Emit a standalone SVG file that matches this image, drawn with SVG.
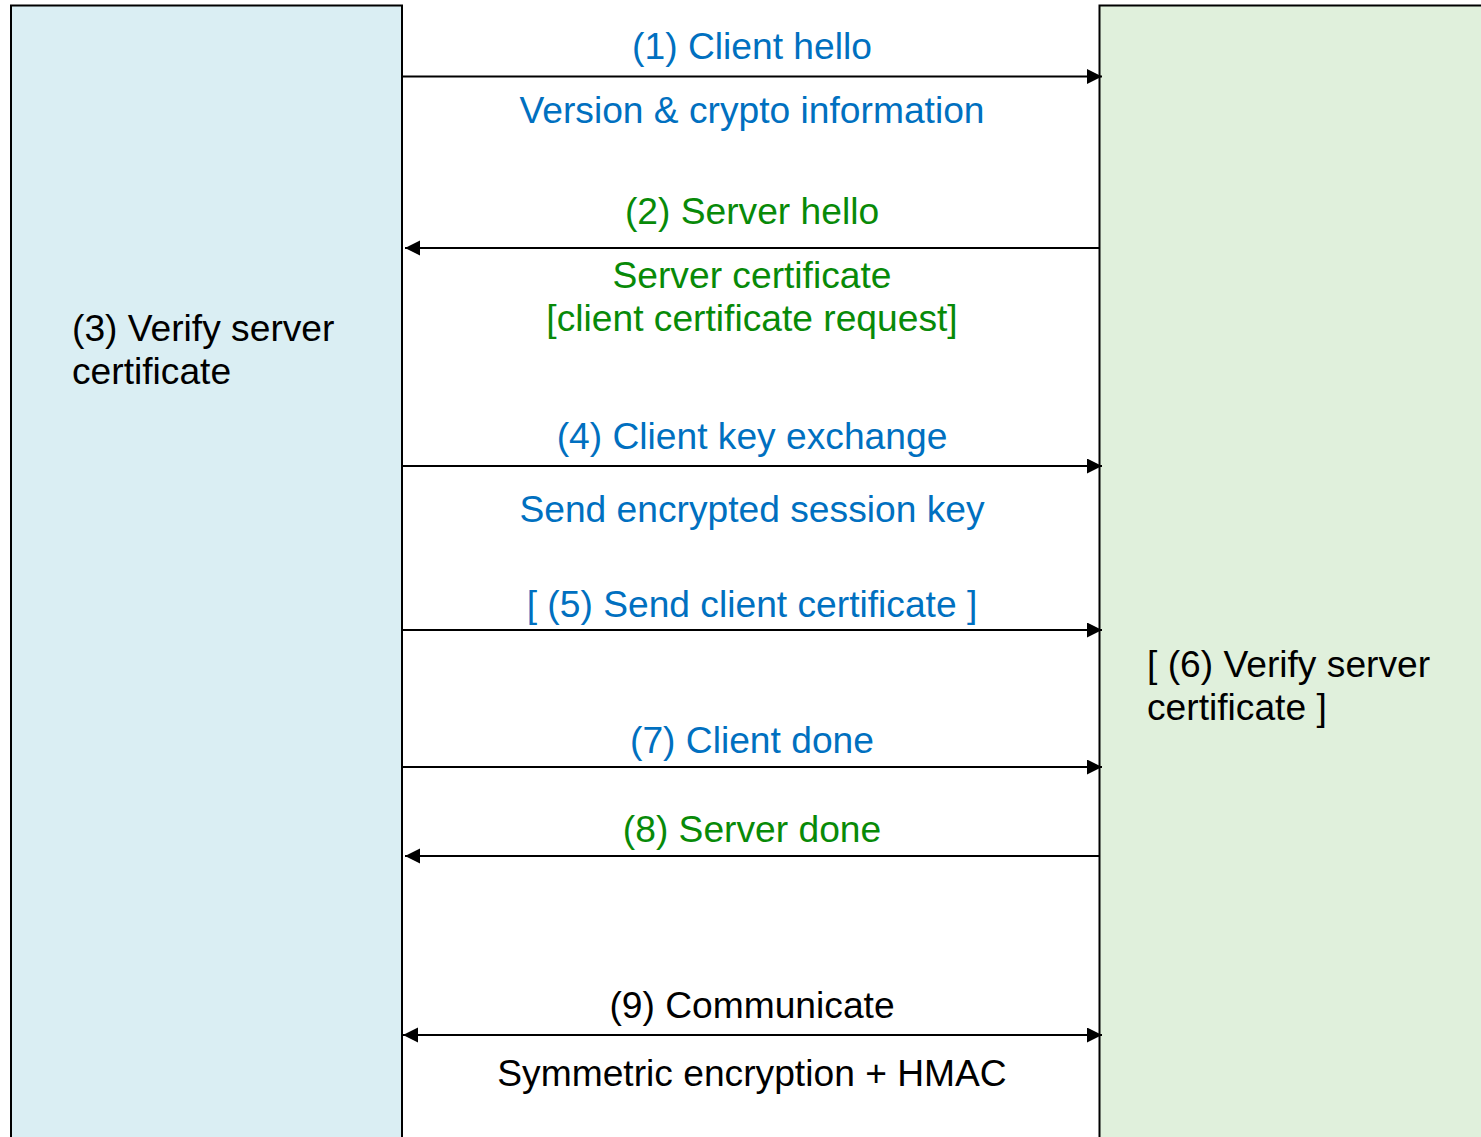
<svg xmlns="http://www.w3.org/2000/svg" width="1481" height="1137" viewBox="0 0 1481 1137">
<style>
text{font-family:"Liberation Sans",Arial,sans-serif;font-size:37.2px}
.c{text-anchor:middle}
.b{fill:#0070C0}
.g{fill:#088A08}
.k{fill:#000}
.box{stroke:#000;stroke-width:2}
.ln{stroke:#000;stroke-width:2;fill:none}
</style>
<defs>
<marker id="ah" markerUnits="userSpaceOnUse" markerWidth="16" markerHeight="16" refX="15" refY="7.5" orient="auto-start-reverse">
<path d="M0,0 L15,7.5 L0,15 Z" fill="#000"/>
</marker>
</defs>
<rect width="1481" height="1137" fill="#fff"/>
<g id="client">
<rect class="box" x="11" y="5.5" width="391" height="1150" fill="#DAEEF3"/>
<text class="k" x="72" y="341">(3) Verify server</text>
<text class="k" x="72" y="384">certificate</text>
</g>
<g id="server">
<rect class="box" x="1099.5" y="5.5" width="400" height="1150" fill="#E0F0DC"/>
<text class="k" x="1147" y="677">[ (6) Verify server</text>
<text class="k" x="1147" y="720">certificate ]</text>
</g>
<g id="connectors">
<line class="ln" x1="402" y1="76.5" x2="1102" y2="76.5" marker-end="url(#ah)"/>
<line class="ln" x1="1099" y1="248" x2="405" y2="248" marker-end="url(#ah)"/>
<line class="ln" x1="402" y1="466" x2="1102" y2="466" marker-end="url(#ah)"/>
<line class="ln" x1="402" y1="630" x2="1102" y2="630" marker-end="url(#ah)"/>
<line class="ln" x1="402" y1="767" x2="1102" y2="767" marker-end="url(#ah)"/>
<line class="ln" x1="1099" y1="856" x2="405" y2="856" marker-end="url(#ah)"/>
<line class="ln" x1="403" y1="1035" x2="1102" y2="1035" marker-start="url(#ah)" marker-end="url(#ah)"/>
</g>
<g id="labels">
<text class="c b" x="752" y="59">(1) Client hello</text>
<text class="c b" x="752" y="123">Version &amp; crypto information</text>
<text class="c g" x="752" y="224">(2) Server hello</text>
<text class="c g" x="752" y="288">Server certificate</text>
<text class="c g" x="752" y="331">[client certificate request]</text>
<text class="c b" x="752" y="449">(4) Client key exchange</text>
<text class="c b" x="752" y="522">Send encrypted session key</text>
<text class="c b" x="752" y="617">[ (5) Send client certificate ]</text>
<text class="c b" x="752" y="753">(7) Client done</text>
<text class="c g" x="752" y="842">(8) Server done</text>
<text class="c k" x="752" y="1018">(9) Communicate</text>
<text class="c k" x="752" y="1086">Symmetric encryption + HMAC</text>
</g>
</svg>
